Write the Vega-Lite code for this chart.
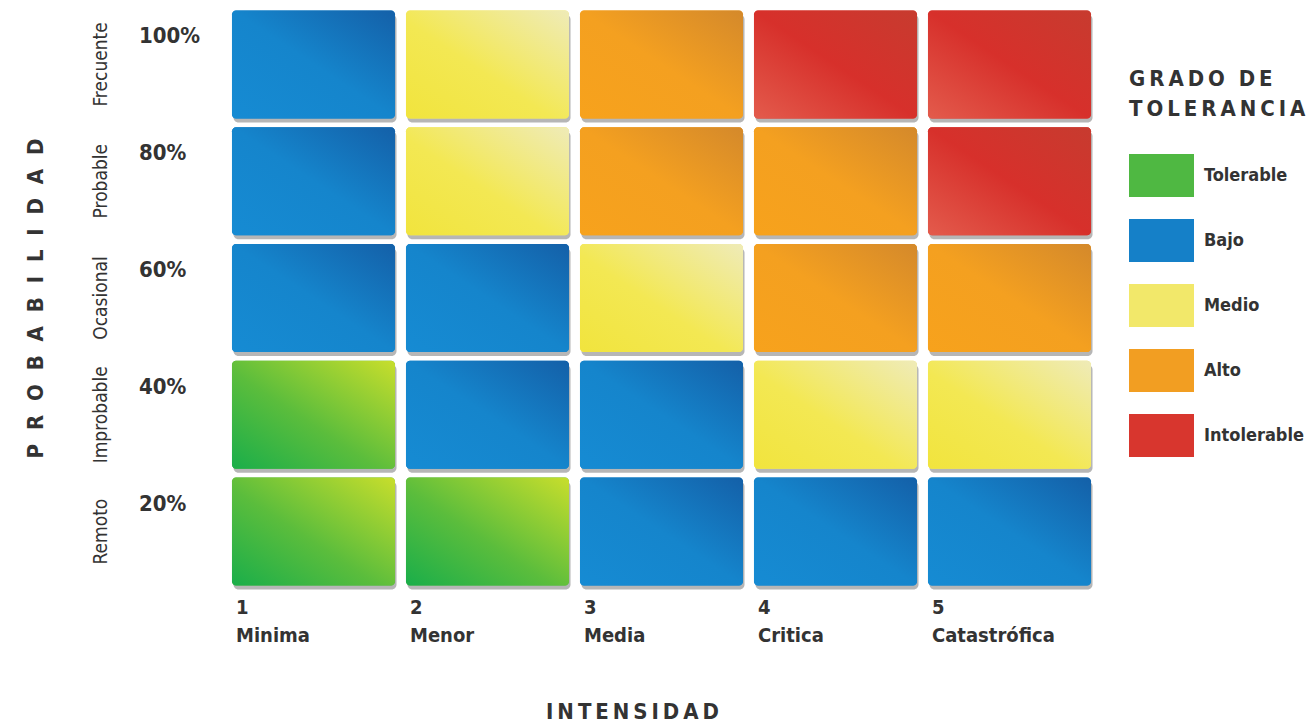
{
  "$schema": "https://vega.github.io/schema/vega-lite/v6.json",
  "width": 870,
  "height": 584,
  "autosize": "none",
  "padding": {"left": 226.5, "top": 6, "right": 213.5, "bottom": 133},
  "background": "white",
  "config": {
    "view": {"stroke": null},
    "axis": {"domain": false, "ticks": false, "grid": false, "labelColor": "#333333", "titleColor": "#333333", "labelOverlap": false, "labelFont": "DejaVu Sans Condensed", "titleFont": "DejaVu Sans Condensed"},
    "legend": {"labelFont": "DejaVu Sans Condensed", "titleFont": "DejaVu Sans Condensed"}
  },
  "data": {
    "values": [
      {"i": "1|Minima", "p": "100%", "n": "Frecuente", "g": "Bajo"},
      {"i": "2|Menor", "p": "100%", "n": "Frecuente", "g": "Medio"},
      {"i": "3|Media", "p": "100%", "n": "Frecuente", "g": "Alto"},
      {"i": "4|Critica", "p": "100%", "n": "Frecuente", "g": "Intolerable"},
      {"i": "5|Catastrófica", "p": "100%", "n": "Frecuente", "g": "Intolerable"},
      {"i": "1|Minima", "p": "80%", "n": "Probable", "g": "Bajo"},
      {"i": "2|Menor", "p": "80%", "n": "Probable", "g": "Medio"},
      {"i": "3|Media", "p": "80%", "n": "Probable", "g": "Alto"},
      {"i": "4|Critica", "p": "80%", "n": "Probable", "g": "Alto"},
      {"i": "5|Catastrófica", "p": "80%", "n": "Probable", "g": "Intolerable"},
      {"i": "1|Minima", "p": "60%", "n": "Ocasional", "g": "Bajo"},
      {"i": "2|Menor", "p": "60%", "n": "Ocasional", "g": "Bajo"},
      {"i": "3|Media", "p": "60%", "n": "Ocasional", "g": "Medio"},
      {"i": "4|Critica", "p": "60%", "n": "Ocasional", "g": "Alto"},
      {"i": "5|Catastrófica", "p": "60%", "n": "Ocasional", "g": "Alto"},
      {"i": "1|Minima", "p": "40%", "n": "Improbable", "g": "Tolerable"},
      {"i": "2|Menor", "p": "40%", "n": "Improbable", "g": "Bajo"},
      {"i": "3|Media", "p": "40%", "n": "Improbable", "g": "Bajo"},
      {"i": "4|Critica", "p": "40%", "n": "Improbable", "g": "Medio"},
      {"i": "5|Catastrófica", "p": "40%", "n": "Improbable", "g": "Medio"},
      {"i": "1|Minima", "p": "20%", "n": "Remoto", "g": "Tolerable"},
      {"i": "2|Menor", "p": "20%", "n": "Remoto", "g": "Tolerable"},
      {"i": "3|Media", "p": "20%", "n": "Remoto", "g": "Bajo"},
      {"i": "4|Critica", "p": "20%", "n": "Remoto", "g": "Bajo"},
      {"i": "5|Catastrófica", "p": "20%", "n": "Remoto", "g": "Bajo"}
    ]
  },
  "layer": [
    {
      "encoding": {
        "x": {"field": "i", "type": "ordinal", "sort": null, "scale": {"paddingInner": 0.063, "paddingOuter": 0.0315}},
        "y": {"field": "p", "type": "ordinal", "sort": ["100%", "80%", "60%", "40%", "20%"], "scale": {"paddingInner": 0.075, "paddingOuter": 0.0375}}
      },
      "layer": [
        {
          "mark": {"type": "rect", "color": "#6e6e6e", "opacity": 0.5, "cornerRadius": 5, "xOffset": 1.5, "yOffset": 4}
        },
        {
          "mark": {"type": "rect", "cornerRadius": 4, "opacity": 1},
          "encoding": {
            "x": {
              "field": "i", "type": "ordinal", "sort": null,
              "scale": {"paddingInner": 0.063, "paddingOuter": 0.0315},
              "axis": {
                "orient": "bottom",
                "labelExpr": "split(datum.value, '|')",
                "labelAngle": 0,
                "labelAlign": "left",
                "labelBaseline": "top",
                "labelOffset": -77.5,
                "labelPadding": 7,
                "labelFontSize": 20,
                "labelFontWeight": "bold",
                "labelLineHeight": 28,
                "title": "I\u2009N\u2009T\u2009E\u2009N\u2009S\u2009I\u2009D\u2009A\u2009D",
                "titleFontSize": 22,
                "titleFontWeight": "bold",
                "titleX": 405.5,
                "titleY": 128,
                "titleAlign": "center",
                "titleBaseline": "alphabetic"
              }
            },
            "y": {
              "field": "p", "type": "ordinal", "sort": ["100%", "80%", "60%", "40%", "20%"],
              "scale": {"paddingInner": 0.075, "paddingOuter": 0.0375},
              "axis": {
                "orient": "left",
                "labelAlign": "left",
                "labelBaseline": "middle",
                "labelPadding": 88,
                "labelOffset": -28,
                "labelFontSize": 22,
                "labelFontWeight": "bold",
                "title": null
              }
            },
            "color": {
              "field": "g", "type": "nominal",
              "scale": {
                "domain": ["Tolerable", "Bajo", "Medio", "Alto", "Intolerable"],
                "range": ["#4fb842", "#1580c8", "#f2e86a", "#f29e22", "#d8362e"]
              },
              "legend": {
                "orient": "none",
                "legendX": 902.5,
                "legendY": 63,
                "title": ["G\u2009R\u2009A\u2009D\u2009O\u2002\u2009D\u2009E", "T\u2009O\u2009L\u2009E\u2009R\u2009A\u2009N\u2009C\u2009I\u2009A"],
                "titleFontSize": 22,
                "titleFontWeight": "bold",
                "titleColor": "#333333",
                "titleLineHeight": 30,
                "titlePadding": 22,
                "symbolType": "M-1,-0.66H1V0.66H-1Z",
                "symbolSize": 4225,
                "symbolStrokeWidth": 0,
                "symbolOpacity": 1,
                "labelFontSize": 18,
                "labelFontWeight": "bold",
                "labelColor": "#333333",
                "labelOffset": 10,
                "rowPadding": 11
              }
            }
          }
        },
        {
          "transform": [{"filter": "datum.g === 'Tolerable'"}],
          "mark": {"type": "rect", "cornerRadius": 4, "color": {"gradient": "linear", "x1": 0, "y1": 1, "x2": 1, "y2": 0, "stops": [{"offset": 0, "color": "#1aae4a"}, {"offset": 0.45, "color": "#5bbd3c"}, {"offset": 1, "color": "#c8de2c"}]}}
        },
        {
          "transform": [{"filter": "datum.g === 'Bajo'"}],
          "mark": {"type": "rect", "cornerRadius": 4, "color": {"gradient": "linear", "x1": 0, "y1": 1, "x2": 1, "y2": 0, "stops": [{"offset": 0, "color": "#168bd3"}, {"offset": 0.5, "color": "#1585cc"}, {"offset": 1, "color": "#1460a8"}]}}
        },
        {
          "transform": [{"filter": "datum.g === 'Medio'"}],
          "mark": {"type": "rect", "cornerRadius": 4, "color": {"gradient": "linear", "x1": 0, "y1": 1, "x2": 1, "y2": 0, "stops": [{"offset": 0, "color": "#f1e43d"}, {"offset": 0.45, "color": "#f3e853"}, {"offset": 1, "color": "#efebb8"}]}}
        },
        {
          "transform": [{"filter": "datum.g === 'Alto'"}],
          "mark": {"type": "rect", "cornerRadius": 4, "color": {"gradient": "linear", "x1": 0, "y1": 1, "x2": 1, "y2": 0, "stops": [{"offset": 0, "color": "#f7a21c"}, {"offset": 0.5, "color": "#f4a020"}, {"offset": 1, "color": "#d4892b"}]}}
        },
        {
          "transform": [{"filter": "datum.g === 'Intolerable'"}],
          "mark": {"type": "rect", "cornerRadius": 4, "color": {"gradient": "linear", "x1": 0, "y1": 1, "x2": 1, "y2": 0, "stops": [{"offset": 0, "color": "#e35b4c"}, {"offset": 0.5, "color": "#d7302b"}, {"offset": 1, "color": "#c73b2f"}]}}
        }
      ]
    },
    {
      "mark": {"type": "rect", "opacity": 0},
      "encoding": {
        "x": {"field": "i", "type": "ordinal", "sort": null, "scale": {"paddingInner": 0.063, "paddingOuter": 0.0315}},
        "y": {
          "field": "n", "type": "ordinal", "sort": ["Frecuente", "Probable", "Ocasional", "Improbable", "Remoto"],
          "scale": {"paddingInner": 0.075, "paddingOuter": 0.0375},
          "axis": {
            "orient": "left",
            "labelAngle": -90,
            "labelAlign": "center",
            "labelBaseline": "bottom",
            "labelPadding": 116.5,
            "labelFontSize": 19,
            "title": "P\u2002\u2009R\u2002\u2009O\u2002\u2009B\u2002\u2009A\u2002\u2009B\u2002\u2009I\u2002\u2009L\u2002\u2009I\u2002\u2009D\u2002\u2009A\u2002\u2009D",
            "titleFontSize": 22,
            "titleFontWeight": "bold",
            "titleAngle": -90,
            "titleX": -191.5,
            "titleY": 292,
            "titleAlign": "center",
            "titleBaseline": "middle"
          }
        }
      }
    }
  ],
  "resolve": {"scale": {"y": "independent"}, "axis": {"y": "independent"}}
}
